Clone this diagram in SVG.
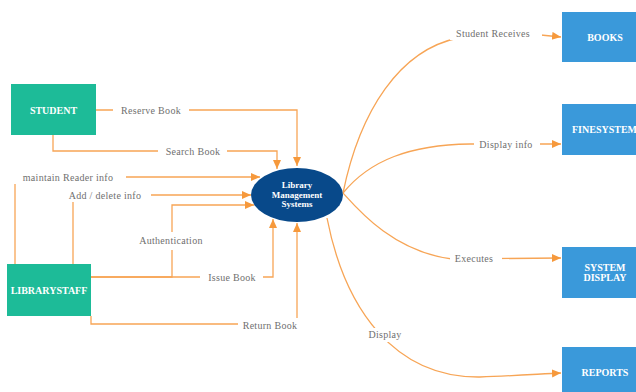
<svg xmlns="http://www.w3.org/2000/svg" width="636" height="392" viewBox="0 0 636 392">
  <style>
    .flow { fill: none; stroke: #F7A556; stroke-width: 1.3; }
    .tag-bg { fill: #ffffff; }
    .tag { font-family: 'Liberation Serif', 'DejaVu Serif', serif; font-size: 10px; fill: #6f6f6f; text-anchor: middle; letter-spacing: 0.3px; }
    .entity-a { fill: #1DBB98; }
    .entity-b { fill: #3A99DA; }
    .process { fill: #08498A; }
    .name { font-family: 'Liberation Serif', 'DejaVu Serif', serif; font-size: 10px; font-weight: bold; fill: #ffffff; text-anchor: middle; }
    .name-sm { font-family: 'Liberation Serif', 'DejaVu Serif', serif; font-size: 9px; font-weight: bold; fill: #ffffff; text-anchor: middle; }
  </style>
  <defs>
    <marker id="head" markerUnits="userSpaceOnUse" markerWidth="10" markerHeight="9" refX="9" refY="4" orient="auto">
      <path d="M0,0 L9,4 L0,8 Z" fill="#F6993C"/>
    </marker>
  </defs>
  <rect width="636" height="392" fill="#ffffff"/>

  <!-- data flows -->
  <g id="connectors">
    <path class="flow" d="M96,110 H297 V166" marker-end="url(#head)"/>
    <path class="flow" d="M53,135 V151 H277 V169" marker-end="url(#head)"/>
    <path class="flow" d="M15,264 V177 H260" marker-end="url(#head)"/>
    <path class="flow" d="M73,264 V195 H251" marker-end="url(#head)"/>
    <path class="flow" d="M91,277 H172 V205 H254" marker-end="url(#head)"/>
    <path class="flow" d="M91,277 H273 V219" marker-end="url(#head)"/>
    <path class="flow" d="M91,316 V324 H297 V223" marker-end="url(#head)"/>

    <path class="flow" d="M343,193 C360,110 400,50 458,38 C490,32 530,33 561,37" marker-end="url(#head)"/>
    <path class="flow" d="M343,193 C370,160 410,145 470,144 L561,144" marker-end="url(#head)"/>
    <path class="flow" d="M343,193 C360,212 395,252 452,259 L561,258" marker-end="url(#head)"/>
    <path class="flow" d="M327,218 C345,310 395,378 480,377 C510,376 540,374 561,373" marker-end="url(#head)"/>

    <rect class="tag-bg" x="113" y="103" width="76" height="14"/>
    <text class="tag" x="151" y="113.5">Reserve  Book</text>
    <rect class="tag-bg" x="158" y="144" width="69" height="14"/>
    <text class="tag" x="193" y="154.5">Search  Book</text>
    <rect class="tag-bg" x="12" y="170" width="114" height="14"/>
    <text class="tag" x="68" y="180.5">maintain  Reader  info</text>
    <rect class="tag-bg" x="64" y="188" width="87" height="14"/>
    <text class="tag" x="105" y="198.5">Add / delete  info</text>
    <rect class="tag-bg" x="134" y="232" width="75" height="18"/>
    <text class="tag" x="171" y="244">Authentication</text>
    <rect class="tag-bg" x="200" y="270" width="63" height="14"/>
    <text class="tag" x="232" y="280.5">Issue  Book</text>
    <rect class="tag-bg" x="238" y="318" width="62" height="14"/>
    <text class="tag" x="270" y="328.5">Return Book</text>

    <rect class="tag-bg" x="450" y="26" width="92" height="14"/>
    <text class="tag" x="493" y="36.5">Student  Receives</text>
    <rect class="tag-bg" x="474" y="137" width="66" height="14"/>
    <text class="tag" x="506" y="147.5">Display  info</text>
    <rect class="tag-bg" x="450" y="252" width="52" height="14"/>
    <text class="tag" x="474" y="262">Executes</text>
    <rect class="tag-bg" x="364" y="328" width="42" height="14"/>
    <text class="tag" x="385" y="338">Display</text>
  </g>

  <g id="student">
    <rect class="entity-a" x="11" y="84" width="85" height="51"/>
    <text class="name" x="53.5" y="113.5">STUDENT</text>
  </g>

  <g id="librarystaff">
    <rect class="entity-a" x="7" y="264" width="84" height="52"/>
    <text class="name" x="49" y="293.5">LIBRARYSTAFF</text>
  </g>

  <g id="library-management-systems">
    <ellipse class="process" cx="297" cy="195" rx="46" ry="27"/>
    <text class="name-sm" x="297" y="188">Library</text>
    <text class="name-sm" x="297" y="197.5">Management</text>
    <text class="name-sm" x="297" y="207">Systems</text>
  </g>

  <g id="books">
    <rect class="entity-b" x="562" y="12" width="85" height="50"/>
    <text class="name" x="605" y="40.5">BOOKS</text>
  </g>

  <g id="finesystem">
    <rect class="entity-b" x="562" y="104" width="85" height="51"/>
    <text class="name" x="604.5" y="133">FINESYSTEM</text>
  </g>

  <g id="system-display">
    <rect class="entity-b" x="562" y="247" width="85" height="51"/>
    <text class="name" x="605" y="271">SYSTEM</text>
    <text class="name" x="605" y="281">DISPLAY</text>
  </g>

  <g id="reports">
    <rect class="entity-b" x="562" y="347" width="85" height="51"/>
    <text class="name" x="605" y="376">REPORTS</text>
  </g>
</svg>
